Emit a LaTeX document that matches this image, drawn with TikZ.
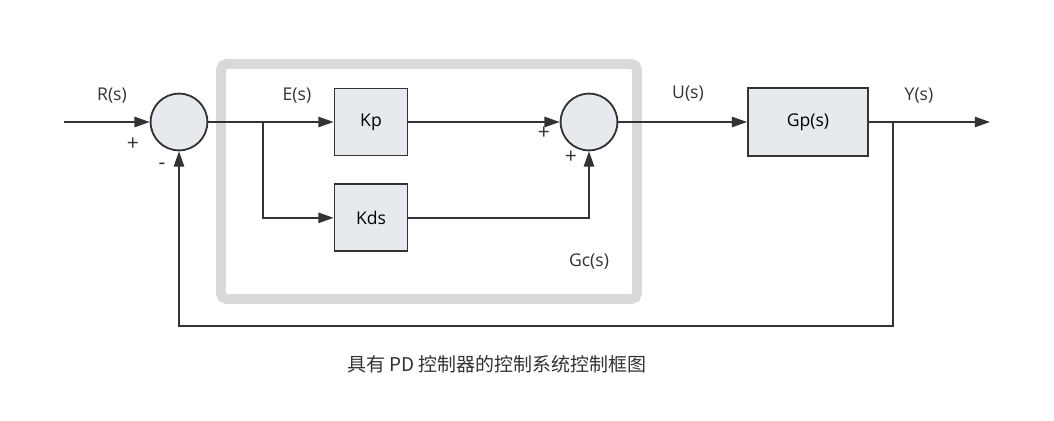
\documentclass[tikz,border=0pt]{standalone}
\usepackage{fontspec}
\setmainfont{Open Sans}
\newfontfamily\cjk{Noto Sans CJK SC}
\usepackage{xcolor}
\usepackage{tikz}
\usetikzlibrary{calc}
\usetikzlibrary{positioning}
\usetikzlibrary{arrows.meta}

\definecolor{linegray}{HTML}{333333}
\definecolor{boxfill}{HTML}{E6E9ED}
\definecolor{framegray}{HTML}{D9D9D9}

\begin{document}
\begin{tikzpicture}[x=0.025cm,y=-0.025cm,
	font=\fontsize{12.5}{15}\selectfont,
	block/.style={draw=linegray,fill=boxfill,line width=1.3pt,minimum width=1.825cm,minimum height=1.675cm},
	sumnode/.style={circle,draw=linegray,fill=boxfill,line width=1.3pt,minimum size=1.42cm},
	sig/.style={draw=linegray,line width=1pt},
	arrow/.style={sig,-{Triangle[length=0.38cm,width=0.26cm]}},
	sign/.style={font=\fontsize{15}{17}\selectfont,text=linegray}]
	\useasboundingbox (0,0) rectangle (1054,421);

	% controller frame
	\draw[framegray,line width=7pt,rounded corners=4pt] (221,64) rectangle (637,299);
	\node[text=linegray] (gclabel) at (589,262) {Gc(s)};

	% summing points
	\node[sumnode] (sum1) at (179,122) {};
	\node[sumnode] (sum2) at (589,122) {};

	% blocks
	\node[block] (kp) at (371,122) {Kp};
	\node[block] (kds) [below=0.675cm of kp] {Kds};
	\node[block,minimum width=3cm,minimum height=1.7cm] (gp) at (808,122) {Gp(s)};

	% in and out
	\coordinate (in) at (64,122);
	\coordinate (out) at (990,122);
	\coordinate (ebranch) at (263,122);
	\coordinate (ybranch) at (893,122);
	\coordinate (fb) at (179,326);

	% connections
	\draw[arrow] (in) -- (sum1);
	\draw[arrow] (sum1) -- (kp);
	\draw[arrow] (ebranch) |- (kds);
	\draw[arrow] (kp) -- (sum2);
	\draw[arrow] (kds) -| (sum2);
	\draw[arrow] (sum2) -- (gp);
	\draw[arrow] (gp) -- (out);
	\draw[arrow] (ybranch) |- (fb) -- (sum1);

	% signal names
	\node[text=linegray] (r) at (112,96) {R(s)};
	\node[text=linegray] (e) at (297,96) {E(s)};
	\node[text=linegray] (u) at (688,94) {U(s)};
	\node[text=linegray] (y) at (919,96) {Y(s)};

	% signs
	\node[sign] (p1) at (133,144) {+};
	\node[sign] (m1) at (162,166) {-};
	\node[sign] (p2) at (544,133) {+};
	\node[sign] (p3) at (571,157) {+};

	% caption
	\node[text=linegray,font=\fontsize{13.5}{16}\selectfont] (caption) at (497,364) {\cjk 具有 PD 控制器的控制系统控制框图};
\end{tikzpicture}
\end{document}
